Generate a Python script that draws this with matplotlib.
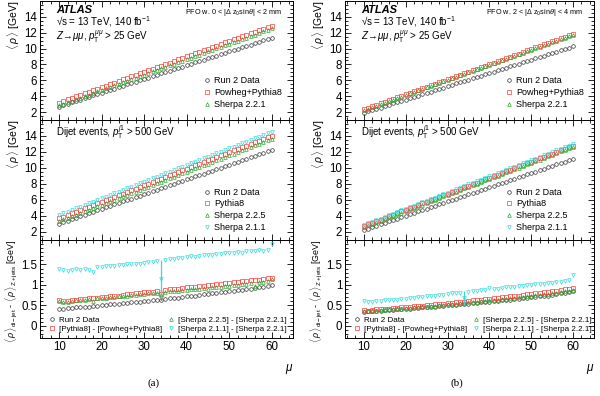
import matplotlib.pyplot as plt
from matplotlib.ticker import MultipleLocator

plt.rcParams['font.family'] = ['Liberation Sans', 'DejaVu Sans']
plt.rcParams['mathtext.fontset'] = 'custom'
plt.rcParams['mathtext.rm'] = 'Liberation Sans'
plt.rcParams['mathtext.it'] = 'Liberation Sans:italic'

# pile-up values, one point per integer mu
mu = [10, 11, 12, 13, 14, 15, 16, 17, 18, 19, 20, 21, 22, 23, 24, 25, 26, 27, 28, 29,
      30, 31, 32, 33, 34, 35, 36, 37, 38, 39, 40, 41, 42, 43, 44, 45, 46, 47, 48, 49,
      50, 51, 52, 53, 54, 55, 56, 57, 58, 59, 60]

# ---- (a) PFO w. 0 < |dz0 sin(theta)| < 2 mm ----
zjet_data_a = [2.70, 2.87, 3.05, 3.22, 3.40, 3.57, 3.74, 3.92, 4.09, 4.26, 4.44, 4.61, 4.78,
               4.96, 5.13, 5.30, 5.48, 5.65, 5.83, 6.00, 6.17, 6.35, 6.52, 6.69, 6.86, 7.04,
               7.21, 7.38, 7.56, 7.73, 7.90, 8.08, 8.25, 8.42, 8.60, 8.77, 8.94, 9.12, 9.29,
               9.46, 9.64, 9.81, 9.98, 10.16, 10.33, 10.50, 10.68, 10.85, 11.02, 11.20, 11.37]
zjet_powheg_a = [3.20, 3.39, 3.59, 3.78, 3.98, 4.17, 4.36, 4.56, 4.75, 4.95, 5.14, 5.33, 5.53,
                 5.72, 5.92, 6.11, 6.30, 6.50, 6.69, 6.89, 7.08, 7.27, 7.47, 7.66, 7.86, 8.05,
                 8.24, 8.44, 8.63, 8.83, 9.02, 9.21, 9.41, 9.60, 9.80, 9.99, 10.18, 10.38, 10.57,
                 10.77, 10.96, 11.15, 11.35, 11.54, 11.74, 11.93, 12.12, 12.32, 12.51, 12.71, 12.90]
zjet_sherpa221_a = [2.85, 3.04, 3.24, 3.43, 3.63, 3.82, 4.01, 4.21, 4.40, 4.60, 4.79, 4.98, 5.18,
                    5.37, 5.57, 5.76, 5.95, 6.15, 6.34, 6.54, 6.73, 6.92, 7.12, 7.31, 7.51, 7.70,
                    7.89, 8.09, 8.28, 8.48, 8.67, 8.86, 9.06, 9.25, 9.45, 9.64, 9.83, 10.03, 10.22,
                    10.42, 10.61, 10.80, 11.00, 11.19, 11.39, 11.58, 11.77, 11.97, 12.16, 12.36, 12.55]

dijet_data_a = [3.05, 3.23, 3.42, 3.60, 3.79, 3.97, 4.15, 4.34, 4.52, 4.71, 4.89, 5.07, 5.26,
                5.44, 5.63, 5.81, 5.99, 6.18, 6.36, 6.55, 6.73, 6.91, 7.10, 7.28, 7.47, 7.65,
                7.83, 8.02, 8.20, 8.39, 8.57, 8.75, 8.94, 9.12, 9.31, 9.49, 9.67, 9.86, 10.04,
                10.23, 10.41, 10.59, 10.78, 10.96, 11.15, 11.33, 11.51, 11.70, 11.88, 12.07, 12.25]
dijet_pythia_a = [3.70, 3.91, 4.11, 4.32, 4.53, 4.74, 4.94, 5.15, 5.36, 5.56, 5.77, 5.98, 6.18,
                  6.39, 6.60, 6.81, 7.01, 7.22, 7.43, 7.63, 7.84, 8.05, 8.25, 8.46, 8.67, 8.88,
                  9.08, 9.29, 9.50, 9.70, 9.91, 10.12, 10.32, 10.53, 10.74, 10.95, 11.15, 11.36, 11.57,
                  11.77, 11.98, 12.19, 12.39, 12.60, 12.81, 13.02, 13.22, 13.43, 13.64, 13.84, 14.05]
dijet_sherpa225_a = [3.35, 3.56, 3.76, 3.97, 4.17, 4.38, 4.59, 4.79, 5.00, 5.20, 5.41, 5.62, 5.82,
                     6.03, 6.23, 6.44, 6.65, 6.85, 7.06, 7.26, 7.47, 7.68, 7.88, 8.09, 8.29, 8.50,
                     8.71, 8.91, 9.12, 9.32, 9.53, 9.74, 9.94, 10.15, 10.35, 10.56, 10.77, 10.97, 11.18,
                     11.38, 11.59, 11.80, 12.00, 12.21, 12.41, 12.62, 12.83, 13.03, 13.24, 13.44, 13.65]
dijet_sherpa211_a = [4.10, 4.31, 4.52, 4.73, 4.94, 5.15, 5.35, 5.56, 5.77, 5.98, 6.19, 6.40, 6.61,
                     6.82, 7.03, 7.24, 7.44, 7.65, 7.86, 8.07, 8.28, 8.49, 8.70, 8.91, 9.12, 9.33,
                     9.53, 9.74, 9.95, 10.16, 10.37, 10.58, 10.79, 11.00, 11.21, 11.42, 11.62, 11.83, 12.04,
                     12.25, 12.46, 12.67, 12.88, 13.09, 13.30, 13.51, 13.71, 13.92, 14.13, 14.34, 14.55]

diff_data_a = [0.42, 0.42, 0.43, 0.44, 0.45, 0.46, 0.46, 0.47, 0.48, 0.49, 0.50, 0.51, 0.52,
               0.53, 0.54, 0.55, 0.56, 0.57, 0.58, 0.59, 0.60, 0.61, 0.62, 0.63, 0.64, 0.66,
               0.67, 0.68, 0.69, 0.71, 0.72, 0.73, 0.74, 0.75, 0.77, 0.78, 0.79, 0.80, 0.82,
               0.83, 0.84, 0.85, 0.87, 0.88, 0.89, 0.91, 0.92, 0.94, 0.96, 0.98, 1.00]
diff_pythia_a = [0.63, 0.60, 0.61, 0.63, 0.64, 0.66, 0.65, 0.67, 0.68, 0.69, 0.71, 0.71, 0.73,
                 0.74, 0.74, 0.76, 0.77, 0.78, 0.79, 0.80, 0.82, 0.83, 0.83, 0.85, 0.77, 0.88,
                 0.89, 0.90, 0.91, 0.93, 0.94, 0.94, 0.96, 0.97, 0.98, 0.99, 1.00, 1.02, 1.02,
                 1.04, 1.05, 1.06, 1.07, 1.09, 1.09, 1.11, 1.12, 1.13, 1.14, 1.16, 1.18]
diff_sherpa225_a = [0.60, 0.58, 0.59, 0.61, 0.62, 0.63, 0.64, 0.65, 0.60, 0.67, 0.68, 0.69, 0.70,
                    0.71, 0.72, 0.73, 0.74, 0.75, 0.76, 0.77, 0.78, 0.79, 0.80, 0.81, 0.76, 0.83,
                    0.84, 0.85, 0.86, 0.87, 0.88, 0.89, 0.90, 0.91, 0.92, 0.89, 0.94, 0.95, 0.96,
                    0.97, 0.98, 0.99, 1.00, 1.01, 1.03, 1.04, 0.98, 1.06, 1.08, 1.10, 1.14]
diff_sherpa211_a = [1.40, 1.36, 1.35, 1.37, 1.38, 1.37, 1.39, 1.36, 1.31, 1.44, 1.45, 1.46, 1.47,
                    1.47, 1.48, 1.49, 1.50, 1.51, 1.52, 1.52, 1.54, 1.55, 1.56, 1.58, 1.14, 1.62,
                    1.64, 1.63, 1.66, 1.67, 1.68, 1.70, 1.69, 1.71, 1.72, 1.73, 1.74, 1.75, 1.76,
                    1.77, 1.78, 1.79, 1.80, 1.79, 1.82, 1.84, 1.83, 1.85, 1.84, 1.86, 2.01]

# ---- (b) PFO w. 2 < |dz0 sin(theta)| < 4 mm ----
zjet_data_b = [1.90, 2.07, 2.24, 2.40, 2.57, 2.74, 2.91, 3.08, 3.24, 3.41, 3.58, 3.75, 3.92,
               4.08, 4.25, 4.42, 4.59, 4.76, 4.92, 5.09, 5.26, 5.43, 5.60, 5.76, 5.93, 6.10,
               6.27, 6.44, 6.60, 6.77, 6.94, 7.11, 7.28, 7.44, 7.61, 7.78, 7.95, 8.12, 8.28,
               8.45, 8.62, 8.79, 8.96, 9.12, 9.29, 9.46, 9.63, 9.80, 9.96, 10.13, 10.30]
zjet_powheg_b = [2.35, 2.54, 2.73, 2.92, 3.11, 3.30, 3.49, 3.68, 3.87, 4.06, 4.25, 4.44, 4.63,
                 4.82, 5.01, 5.20, 5.39, 5.58, 5.77, 5.96, 6.15, 6.34, 6.53, 6.72, 6.91, 7.10,
                 7.29, 7.48, 7.67, 7.86, 8.05, 8.24, 8.43, 8.62, 8.81, 9.00, 9.19, 9.38, 9.57,
                 9.76, 9.95, 10.14, 10.33, 10.52, 10.71, 10.90, 11.09, 11.28, 11.47, 11.66, 11.85]
zjet_sherpa221_b = [2.25, 2.44, 2.63, 2.82, 3.01, 3.20, 3.39, 3.58, 3.77, 3.96, 4.15, 4.34, 4.53,
                    4.72, 4.91, 5.10, 5.29, 5.48, 5.67, 5.86, 6.05, 6.24, 6.43, 6.62, 6.81, 7.00,
                    7.19, 7.38, 7.57, 7.76, 7.95, 8.14, 8.33, 8.52, 8.71, 8.90, 9.09, 9.28, 9.47,
                    9.66, 9.85, 10.04, 10.23, 10.42, 10.61, 10.80, 10.99, 11.18, 11.37, 11.56, 11.75]

dijet_data_b = [2.25, 2.43, 2.61, 2.78, 2.96, 3.14, 3.32, 3.50, 3.67, 3.85, 4.03, 4.21, 4.39,
                4.56, 4.74, 4.92, 5.10, 5.28, 5.45, 5.63, 5.81, 5.99, 6.17, 6.34, 6.52, 6.70,
                6.88, 7.06, 7.23, 7.41, 7.59, 7.77, 7.95, 8.12, 8.30, 8.48, 8.66, 8.84, 9.01,
                9.19, 9.37, 9.55, 9.73, 9.90, 10.08, 10.26, 10.44, 10.62, 10.79, 10.97, 11.15]
dijet_pythia_b = [2.75, 2.95, 3.15, 3.35, 3.55, 3.76, 3.96, 4.16, 4.36, 4.56, 4.76, 4.96, 5.16,
                  5.36, 5.56, 5.77, 5.97, 6.17, 6.37, 6.57, 6.77, 6.97, 7.17, 7.37, 7.57, 7.78,
                  7.98, 8.18, 8.38, 8.58, 8.78, 8.98, 9.18, 9.38, 9.58, 9.79, 9.99, 10.19, 10.39,
                  10.59, 10.79, 10.99, 11.19, 11.39, 11.59, 11.80, 12.00, 12.20, 12.40, 12.60, 12.80]
dijet_sherpa225_b = [2.62, 2.82, 3.02, 3.22, 3.42, 3.63, 3.83, 4.03, 4.23, 4.43, 4.63, 4.83, 5.03,
                     5.23, 5.43, 5.64, 5.84, 6.04, 6.24, 6.44, 6.64, 6.84, 7.04, 7.24, 7.44, 7.65,
                     7.85, 8.05, 8.25, 8.45, 8.65, 8.85, 9.05, 9.25, 9.45, 9.66, 9.86, 10.06, 10.26,
                     10.46, 10.66, 10.86, 11.06, 11.26, 11.46, 11.67, 11.87, 12.07, 12.27, 12.47, 12.67]
dijet_sherpa211_b = [2.86, 3.06, 3.27, 3.47, 3.67, 3.88, 4.08, 4.28, 4.48, 4.69, 4.89, 5.09, 5.30,
                     5.50, 5.70, 5.91, 6.11, 6.31, 6.52, 6.72, 6.92, 7.12, 7.33, 7.53, 7.73, 7.94,
                     8.14, 8.34, 8.55, 8.75, 8.95, 9.15, 9.36, 9.56, 9.76, 9.97, 10.17, 10.37, 10.58,
                     10.78, 10.98, 11.18, 11.39, 11.59, 11.79, 12.00, 12.20, 12.40, 12.61, 12.81, 13.01]

diff_data_b = [0.34, 0.35, 0.35, 0.36, 0.37, 0.38, 0.38, 0.39, 0.40, 0.41, 0.41, 0.42, 0.43,
               0.44, 0.45, 0.45, 0.46, 0.47, 0.48, 0.49, 0.50, 0.50, 0.51, 0.52, 0.53, 0.54,
               0.55, 0.56, 0.57, 0.58, 0.59, 0.60, 0.61, 0.62, 0.63, 0.64, 0.65, 0.66, 0.67,
               0.68, 0.70, 0.71, 0.72, 0.73, 0.74, 0.76, 0.77, 0.79, 0.80, 0.82, 0.84]
diff_pythia_b = [0.38, 0.37, 0.39, 0.40, 0.41, 0.41, 0.42, 0.43, 0.44, 0.45, 0.46, 0.47, 0.48,
                 0.48, 0.49, 0.50, 0.51, 0.52, 0.53, 0.54, 0.55, 0.56, 0.57, 0.58, 0.59, 0.61,
                 0.62, 0.63, 0.64, 0.65, 0.66, 0.67, 0.68, 0.70, 0.71, 0.72, 0.73, 0.74, 0.75,
                 0.77, 0.78, 0.79, 0.80, 0.82, 0.83, 0.84, 0.86, 0.87, 0.89, 0.91, 0.93]
diff_sherpa225_b = [0.36, 0.35, 0.36, 0.37, 0.38, 0.39, 0.40, 0.40, 0.41, 0.42, 0.43, 0.44, 0.45,
                    0.46, 0.46, 0.47, 0.48, 0.49, 0.50, 0.51, 0.52, 0.53, 0.54, 0.55, 0.56, 0.57,
                    0.58, 0.59, 0.60, 0.61, 0.62, 0.63, 0.64, 0.65, 0.66, 0.68, 0.69, 0.70, 0.71,
                    0.72, 0.73, 0.75, 0.76, 0.77, 0.78, 0.80, 0.81, 0.82, 0.84, 0.86, 0.88]
diff_sherpa211_b = [0.61, 0.59, 0.58, 0.60, 0.61, 0.62, 0.62, 0.64, 0.62, 0.65, 0.66, 0.68, 0.68,
                    0.70, 0.71, 0.72, 0.73, 0.74, 0.75, 0.76, 0.78, 0.79, 0.79, 0.81, 0.68, 0.83,
                    0.84, 0.86, 0.87, 0.88, 0.92, 0.89, 0.91, 0.92, 0.94, 0.95, 0.96, 0.97, 0.98,
                    0.99, 1.00, 1.01, 1.02, 1.03, 1.04, 1.05, 1.07, 1.08, 1.10, 1.12, 1.25]

# one low-statistics bin with large error bars
err_mu = 34
err_a = [0.0, 0.14, 0.12, 0.47]   # data, pythia, sherpa225, sherpa211
err_b = [0.0, 0.06, 0.06, 0.18]

colors = ['#333333', '#ff3b3b', '#2aa52a', '#33dada']
markers = ['o', 's', '^', 'v']
MS, MEW = 2.6, 0.5

fig = plt.figure(figsize=(6, 3.96), dpi=100)


def style(ax, ylo, yhi):
    ax.set_xlim(5.5, 65)
    ax.set_ylim(ylo, yhi)
    ax.xaxis.set_major_locator(MultipleLocator(10))
    ax.xaxis.set_minor_locator(MultipleLocator(2))
    ax.tick_params(which='both', direction='in', top=True, right=True, labelsize=8.3,
                   width=0.6, pad=2)
    ax.tick_params(which='major', length=4)
    ax.tick_params(which='minor', length=2)
    for s in ax.spines.values():
        s.set_linewidth(0.7)


def column(x0, w, zjet, dijet, diff, errs, pfo_text, tag):
    ax1 = fig.add_axes([x0, 0.697, w, 0.3005])
    ax2 = fig.add_axes([x0, 0.394, w, 0.303])
    ax3 = fig.add_axes([x0, 0.1465, w, 0.2475])

    for ax in (ax1, ax2):
        style(ax, 1, 16)
        ax.yaxis.set_minor_locator(MultipleLocator(0.5))
        ax.set_yticks([2, 4, 6, 8, 10, 12, 14])
        ax.tick_params(labelbottom=False)
        ax.set_ylabel(r'$\langle\,\rho\,\rangle$ [GeV]', loc='top', fontsize=7.5, labelpad=2)

    zlabels = ['Run 2 Data', 'Powheg+Pythia8', 'Sherpa 2.2.1']
    for i, ys in enumerate(zjet):
        ax1.plot(mu, ys, ls='none', marker=markers[i], ms=MS, mfc='none', mec=colors[i],
                 mew=MEW, label=zlabels[i])
    ax1.legend(loc='lower left', bbox_to_anchor=(0.605, 0.02), frameon=False, fontsize=6.5,
               handletextpad=0.2, labelspacing=0.35, handlelength=1.2)
    ax1.text(0.065, 0.925, 'ATLAS', transform=ax1.transAxes, fontsize=8, weight='bold',
             style='italic', va='center')
    ax1.text(0.065, 0.825, '\u221as = 13 TeV, 140 fb$^{-1}$', transform=ax1.transAxes,
             fontsize=7, va='center')
    ax1.text(0.065, 0.695, r'$Z\!\rightarrow\!\mu\mu$, $p_{\mathrm{T}}^{\mu\mu}$ > 25 GeV',
             transform=ax1.transAxes, fontsize=7, va='center')
    ax1.text(0.955, 0.9, pfo_text, transform=ax1.transAxes, fontsize=5.2, ha='right', va='center')

    dlabels = ['Run 2 Data', 'Pythia8', 'Sherpa 2.2.5', 'Sherpa 2.1.1']
    for i, ys in enumerate(dijet):
        ax2.plot(mu, ys, ls='none', marker=markers[i], ms=MS, mfc='none', mec=colors[i],
                 mew=MEW, label=dlabels[i])
    ax2.legend(loc='lower left', bbox_to_anchor=(0.605, 0.0), frameon=False, fontsize=6.5,
               handletextpad=0.2, labelspacing=0.3, handlelength=1.2)
    ax2.text(0.065, 0.895, r'Dijet events, $p_{\mathrm{T}}^{j1}$ > 500 GeV',
             transform=ax2.transAxes, fontsize=7, va='center')

    style(ax3, -0.3, 2.1)
    ax3.set_yticks([0, 0.5, 1, 1.5])
    ax3.set_yticklabels(['0', '0.5', '1', '1.5'])
    ax3.yaxis.set_minor_locator(MultipleLocator(0.1))
    rlabels = ['Run 2 Data', '[Pythia8] - [Powheg+Pythia8]',
               '[Sherpa 2.2.5] - [Sherpa 2.2.1]', '[Sherpa 2.1.1] - [Sherpa 2.2.1]']
    k = mu.index(err_mu)
    for i, ys in enumerate(diff):
        ax3.plot(mu, ys, ls='none', marker=markers[i], ms=MS, mfc='none', mec=colors[i],
                 mew=MEW, label=rlabels[i])
        if errs[i] > 0:
            ax3.errorbar([err_mu], [ys[k]], yerr=[errs[i]], fmt='none', ecolor=colors[i],
                         elinewidth=0.9, capsize=0)
    ax3.legend(loc='lower left', bbox_to_anchor=(0.0, -0.02), ncol=2, frameon=False,
               fontsize=5.8, handletextpad=0.2, labelspacing=0.15, handlelength=1.2,
               columnspacing=0.6)
    ax3.set_ylabel(r'$\langle\,\rho\,\rangle_{\mathrm{di-jet}}$ - $\langle\,\rho\,\rangle_{\mathrm{Z+jets}}$ [GeV]',
                   loc='top', fontsize=6.4, labelpad=1)
    ax3.set_xlabel(r'$\mu$', loc='right', fontsize=8.5, labelpad=7)
    fig.text(x0 + w * 0.45, 0.025, tag, fontsize=8, family='Liberation Serif', ha='center')


column(0.0667, 0.4217, [zjet_data_a, zjet_powheg_a, zjet_sherpa221_a],
       [dijet_data_a, dijet_pythia_a, dijet_sherpa225_a, dijet_sherpa211_a],
       [diff_data_a, diff_pythia_a, diff_sherpa225_a, diff_sherpa211_a], err_a,
       r'PFO w. 0 < |$\Delta$ z$_0$sin$\theta$| < 2 mm', '(a)')
column(0.575, 0.4150, [zjet_data_b, zjet_powheg_b, zjet_sherpa221_b],
       [dijet_data_b, dijet_pythia_b, dijet_sherpa225_b, dijet_sherpa211_b],
       [diff_data_b, diff_pythia_b, diff_sherpa225_b, diff_sherpa211_b], err_b,
       r'PFO w. 2 < |$\Delta$ z$_0$sin$\theta$| < 4 mm', '(b)')

fig.savefig('out.png', dpi=100)
